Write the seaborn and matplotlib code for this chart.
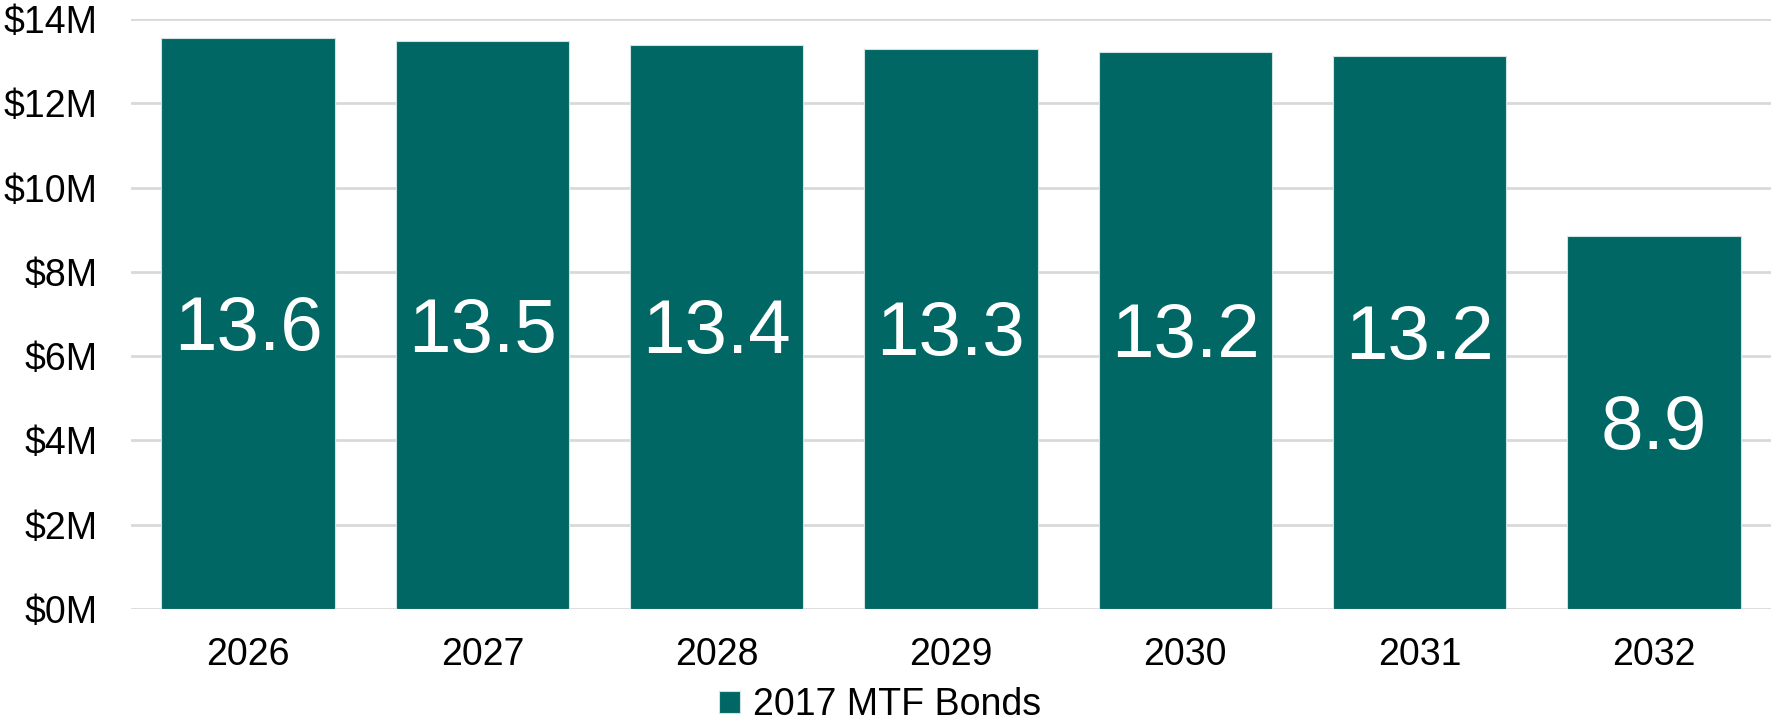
import matplotlib
matplotlib.use("Agg")
import matplotlib.pyplot as plt
import seaborn as sns
import pandas as pd

years = ["2026", "2027", "2028", "2029", "2030", "2031", "2032"]
values = [13.55, 13.47, 13.39, 13.30, 13.22, 13.13, 8.86]
value_labels = ["13.6", "13.5", "13.4", "13.3", "13.2", "13.2", "8.9"]
series_name = "2017 MTF Bonds"
y_ticks = [0, 2, 4, 6, 8, 10, 12, 14]
y_tick_labels = ["$0M", "$2M", "$4M", "$6M", "$8M", "$10M", "$12M", "$14M"]

teal = "#006764"

sns.set_theme(style="white")
plt.rcParams["font.family"] = ["Liberation Sans", "DejaVu Sans"]
plt.rcParams["text.color"] = "black"

df = pd.DataFrame({"year": years, "value": values, "series": series_name})

fig = plt.figure(figsize=(17.75, 7.21), dpi=100)
ax = fig.add_axes([131 / 1775, 1 - 609 / 721, (1771 - 131) / 1775, (609 - 19) / 721])

sns.barplot(data=df, x="year", y="value", hue="series", palette=[teal],
            saturation=1, width=0.74, dodge=False, ax=ax,
            edgecolor="#cfe3e1", linewidth=0.8, legend=True, zorder=3)

ax.set_ylim(0, 14)
ax.set_yticks(y_ticks)
ax.set_yticklabels(y_tick_labels)
ax.grid(axis="y", color="#d9d9d9", linewidth=2, zorder=0)
ax.set_axisbelow(True)
for s in ax.spines.values():
    s.set_visible(False)
ax.tick_params(axis="both", length=0, labelsize=27, colors="black")
ax.tick_params(axis="x", pad=20)
ax.tick_params(axis="y", pad=24)
ax.set_xlabel("")
ax.set_ylabel("")

texts = ax.bar_label(ax.containers[0], labels=value_labels, label_type="center",
                     color="white", fontsize=55)
for t in texts:
    t.xyann = (0, -5)

ax.get_legend().remove()
handles, labels = ax.get_legend_handles_labels()
leg = fig.legend(handles, labels, loc="center", bbox_to_anchor=(0.496, 0.022),
                 frameon=False, fontsize=27, handlelength=0.55, handleheight=0.55,
                 handletextpad=0.35, borderpad=0)
for t in leg.get_texts():
    t.set_color("black")

fig.savefig("out.png", dpi=100)
